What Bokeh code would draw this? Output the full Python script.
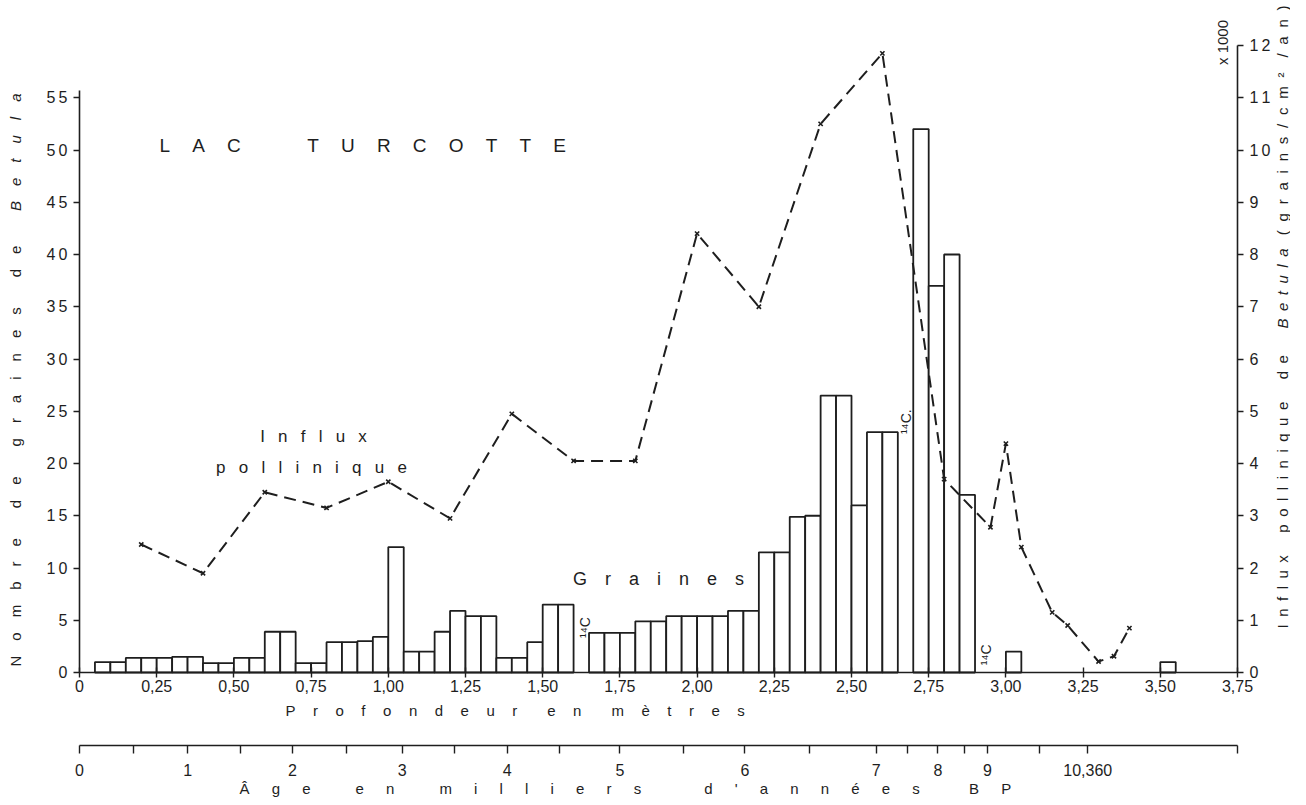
import math
from bokeh.plotting import figure
from bokeh.models import LinearAxis, Range1d, FixedTicker, Label
from bokeh.embed import file_html
from bokeh.resources import INLINE

# ---------------- data ----------------
bar_depth = [0.05, 0.10, 0.15, 0.20, 0.25, 0.30, 0.35, 0.40, 0.45, 0.50,
             0.55, 0.60, 0.65, 0.70, 0.75, 0.80, 0.85, 0.90, 0.95, 1.00,
             1.05, 1.10, 1.15, 1.20, 1.25, 1.30, 1.35, 1.40, 1.45, 1.50,
             1.55, 1.65, 1.70, 1.75, 1.80, 1.85, 1.90, 1.95, 2.00, 2.05,
             2.10, 2.15, 2.20, 2.25, 2.30, 2.35, 2.40, 2.45, 2.50, 2.55,
             2.60, 2.70, 2.75, 2.80, 2.85, 3.00, 3.50]
bar_count = [1, 1, 1.4, 1.4, 1.4, 1.5, 1.5, 0.9, 0.9, 1.4,
             1.4, 3.9, 3.9, 0.9, 0.9, 2.9, 2.9, 3.0, 3.4, 12,
             2, 2, 3.9, 5.9, 5.4, 5.4, 1.4, 1.4, 2.9, 6.5,
             6.5, 3.8, 3.8, 3.8, 4.9, 4.9, 5.4, 5.4, 5.4, 5.4,
             5.9, 5.9, 11.5, 11.5, 14.9, 15, 26.5, 26.5, 16, 23,
             23, 52, 37, 40, 17, 2, 1]

influx_depth = [0.20, 0.40, 0.60, 0.80, 1.00, 1.20, 1.40, 1.60, 1.80, 2.00,
                2.20, 2.40, 2.60, 2.80, 2.95, 3.00, 3.05, 3.15, 3.20, 3.30,
                3.35, 3.40]
influx_value = [2.45, 1.9, 3.45, 3.15, 3.65, 2.95, 4.95, 4.05, 4.05, 8.4,
                7.0, 10.5, 11.85, 3.7, 2.78, 4.38, 2.4, 1.15, 0.9, 0.21,
                0.31, 0.85]

depth_ticks = [0, 0.25, 0.5, 0.75, 1.0, 1.25, 1.5, 1.75, 2.0, 2.25, 2.5, 2.75,
               3.0, 3.25, 3.5, 3.75]
depth_tick_labels = ["0", "0,25", "0,50", "0,75", "1,00", "1,25", "1,50", "1,75",
                     "2,00", "2,25", "2,50", "2,75", "3,00", "3,25", "3,50", "3,75"]
count_ticks = [0, 5, 10, 15, 20, 25, 30, 35, 40, 45, 50, 55]
influx_ticks = [0, 1, 2, 3, 4, 5, 6, 7, 8, 9, 10, 11, 12]

age_tick_depth = [0.0, 0.35, 0.69, 1.045, 1.385, 1.75, 2.155, 2.58, 2.78, 2.94, 3.265]
age_tick_labels = ["0", "1", "2", "3", "4", "5", "6", "7", "8", "9", "10,360"]
age_minor_depth = [0.175, 0.52, 0.865, 1.215, 1.555, 1.955, 2.365, 2.68, 2.865,
                   3.11, 3.75]

c14_depth = [1.638, 2.675, 2.935]
c14_level = [4.3, 24.0, 1.7]
c14_text = ["\u00b9\u2074C", "\u00b9\u2074C.", "\u00b9\u2074C"]

# ---------------- layout (pixels) ----------------
W, H = 1290, 797
PX_LEFT, PX_RIGHT = 79, 1237      # depth 0 and 3.75
PY_ZERO, PY_TOP60 = 672, 45       # count 0 and count 60 (= influx 12)
DEPTH_MAX, COUNT_SPAN = 3.75, 60.0
RATIO = 5.0                        # 1 influx unit (x1000) = 5 counts
PXM = (PX_RIGHT - PX_LEFT) / DEPTH_MAX
PYU = (PY_ZERO - PY_TOP60) / COUNT_SPAN


def X(px):
    return (px - PX_LEFT) / PXM


def Y(py):
    return (PY_ZERO - py) / PYU


EM, EN, NB, TH, HA = "\u2003", "\u2002", "\u00a0", "\u2009", "\u200a"
FONT = "Liberation Sans"
INK = "#1e1e1e"


def spaced(text, gap, wgap):
    return wgap.join(gap.join(list(w)) for w in text.split(" "))


BAR_W = 0.05

p = figure(width=W, height=H, x_range=Range1d(X(0), X(W)), y_range=Range1d(Y(H), Y(0)),
           x_axis_type=None, y_axis_type=None,
           output_backend="svg", toolbar_location=None,
           min_border_left=0, min_border_right=0, min_border_top=0, min_border_bottom=0)
p.outline_line_color = None
p.extra_y_ranges = {"influx": Range1d(Y(H) / RATIO, Y(0) / RATIO)}


def style_axis(ax, size="16px"):
    ax.axis_line_color = INK
    ax.axis_line_width = 1.6
    ax.major_tick_line_color = INK
    ax.major_tick_line_width = 1.4
    ax.minor_tick_line_color = INK
    ax.minor_tick_line_width = 1.4
    ax.major_label_text_font = FONT
    ax.major_label_text_font_size = size
    ax.major_label_text_color = INK


# depth axis
xa = LinearAxis(ticker=FixedTicker(ticks=depth_ticks), fixed_location=0, bounds=(0, DEPTH_MAX),
                major_label_overrides={t: l for t, l in zip(depth_ticks, depth_tick_labels)},
                major_tick_in=5, major_tick_out=5, minor_tick_in=0, minor_tick_out=0,
                major_label_standoff=2)
style_axis(xa)
p.add_layout(xa, "below")

# age axis
aa = LinearAxis(ticker=FixedTicker(ticks=age_tick_depth, minor_ticks=age_minor_depth),
                fixed_location=Y(745), bounds=(0, DEPTH_MAX),
                major_label_overrides={t: l for t, l in zip(age_tick_depth, age_tick_labels)},
                major_tick_in=0, major_tick_out=8, minor_tick_in=0, minor_tick_out=8,
                major_label_standoff=10)
style_axis(aa)
p.add_layout(aa, "below")

# left axis
ya = LinearAxis(ticker=FixedTicker(ticks=count_ticks), fixed_location=0, bounds=(0, 55.7),
                major_label_overrides={t: TH.join(str(t)) for t in count_ticks},
                major_tick_in=0, major_tick_out=6, minor_tick_in=0, minor_tick_out=0,
                major_label_standoff=6)
style_axis(ya)
p.add_layout(ya, "left")

# right axis
ra = LinearAxis(y_range_name="influx", ticker=FixedTicker(ticks=influx_ticks),
                fixed_location=DEPTH_MAX, bounds=(0, 12),
                major_label_overrides={t: TH.join(str(t)) for t in influx_ticks},
                major_tick_in=0, major_tick_out=6, minor_tick_in=0, minor_tick_out=0,
                major_label_standoff=6)
style_axis(ra)
p.add_layout(ra, "right")

# bars
p.quad(left=bar_depth, right=[d + BAR_W for d in bar_depth], bottom=0, top=bar_count,
       fill_color="white", line_color=INK, line_width=1.8)

# influx line
p.line(influx_depth, influx_value, y_range_name="influx", line_color=INK,
       line_width=2.0, line_dash="12 7")
p.scatter(influx_depth, influx_value, y_range_name="influx", marker="x", size=6,
          line_color=INK, line_width=1.6)


def lab(px, py, text, size, align="center", angle=0.0, style="normal"):
    p.add_layout(Label(x=X(px), y=Y(py), text=text, text_font=FONT, text_font_size=size,
                       text_color=INK, text_align=align, text_baseline="middle",
                       angle=angle, text_font_style=style))


UP = math.pi / 2

# texts inside the plot
lab(159, 145, spaced("LAC TURCOTTE", EM + HA + HA, EM * 3 + EN), "19px", align="left")
lab(313, 436, spaced("Influx", EN + NB, EM), "17px")
lab(311, 467, spaced("pollinique", EN + NB, EM), "17px")
lab(658, 578, spaced("Graines", EM, EM), "18px")
for d, lv, t in zip(c14_depth, c14_level, c14_text):
    p.add_layout(Label(x=d, y=lv, text=t, text_font=FONT, text_font_size="14px",
                       text_color=INK, text_align="center", text_baseline="middle",
                       angle=UP))
lab(1222, 42, "x 1000", "15px", angle=UP)

# left axis title
lab(15, 666, spaced("Nombre de graines de", EN + EN, EN * 4), "15px", align="left", angle=UP)
lab(15, 93, spaced("Betula", EN + EN, EN * 4), "15px", align="right", angle=UP,
    style="italic")

# right axis title
lab(1282, 628, spaced("Influx pollinique de", EN, EN * 3), "15px", align="left", angle=UP)
lab(1282, 288, spaced("Betula", EN, EN * 3), "15px", angle=UP, style="italic")
lab(1282, 5, spaced("(grains/cm\u00b2 /an)", EN + HA, EN * 2), "15px", align="right",
    angle=UP)

# bottom axis titles
lab(285, 710, spaced("Profondeur en mètres", EM + HA + HA, EM * 2), "15px", align="left")
age_gap = EM + NB + TH
age_title = (spaced("Âge en milliers", age_gap, EM * 3) + EM * 4 + TH +
             spaced("d'années", age_gap, EM) + EM * 3 + NB + spaced("BP", age_gap, EM))
lab(239, 788, age_title, "15px", align="left")

open("out.html", "w").write(file_html(p, INLINE))
